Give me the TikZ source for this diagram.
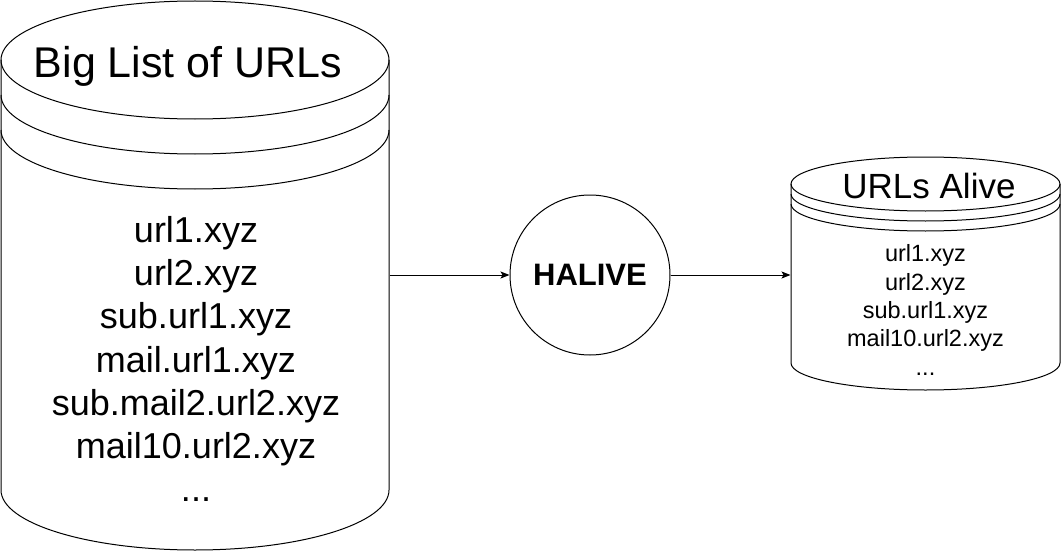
\documentclass[tikz,border=0pt]{standalone}
\usepackage{fontspec}
\setmainfont{Liberation Sans}
\usetikzlibrary{arrows.meta,positioning}

\begin{document}
\begin{tikzpicture}[x=1pt,y=-1pt,line width=1pt,
        store/.style={inner sep=0pt},
        flow/.style={-{Stealth[length=9pt,width=7pt,inset=2pt]}},
        biglabel/.style={font=\fontsize{43}{52}\selectfont},
        bigitems/.style={font=\fontsize{36}{43.3}\selectfont,align=center},
        smalllabel/.style={font=\fontsize{35}{42}\selectfont},
        smallitems/.style={font=\fontsize{23.5}{28.4}\selectfont,align=center}]
        \useasboundingbox (0,0) rectangle (1061,551);

        \draw (195,60) ellipse [x radius=194, y radius=59];
        \draw (1,60) -- (1,490) arc[start angle=180, end angle=0, x radius=194, y radius=60] -- (389,60);
        \draw (1,95) arc[start angle=180, end angle=0, x radius=194, y radius=59];
        \draw (1,130) arc[start angle=180, end angle=0, x radius=194, y radius=59];
        \node[store, minimum width=388pt, minimum height=549pt] (biglist) at (195,275) {};
        \node[biglabel] (biglisttitle) at (188,66) {Big List of URLs};
        \node[bigitems] (biglistitems) at (196,359) {url1.xyz\\url2.xyz\\sub.url1.xyz\\mail.url1.xyz\\sub.mail2.url2.xyz\\mail10.url2.xyz\\...};

        \node[circle, draw, minimum size=160pt, inner sep=0pt, font=\bfseries\fontsize{31}{37}\selectfont] (halive) at (590,275) {HALIVE};

        \draw (925.5,184) ellipse [x radius=134.5, y radius=27];
        \draw (791,184) -- (791,363) arc[start angle=180, end angle=0, x radius=134.5, y radius=27] -- (1060,184);
        \draw (791,194) arc[start angle=180, end angle=0, x radius=134.5, y radius=27];
        \draw (791,204) arc[start angle=180, end angle=0, x radius=134.5, y radius=27];
        \node[store, minimum width=269pt, minimum height=233pt] (alive) at (925.5,275) {};
        \node[smalllabel] (alivetitle) at (929,186) {URLs Alive};
        \node[smallitems] (aliveitems) at (925.5,310) {url1.xyz\\url2.xyz\\sub.url1.xyz\\mail10.url2.xyz\\...};

        \draw[flow] (biglist) -- (halive);
        \draw[flow] (halive) -- (alive);
\end{tikzpicture}
\end{document}
